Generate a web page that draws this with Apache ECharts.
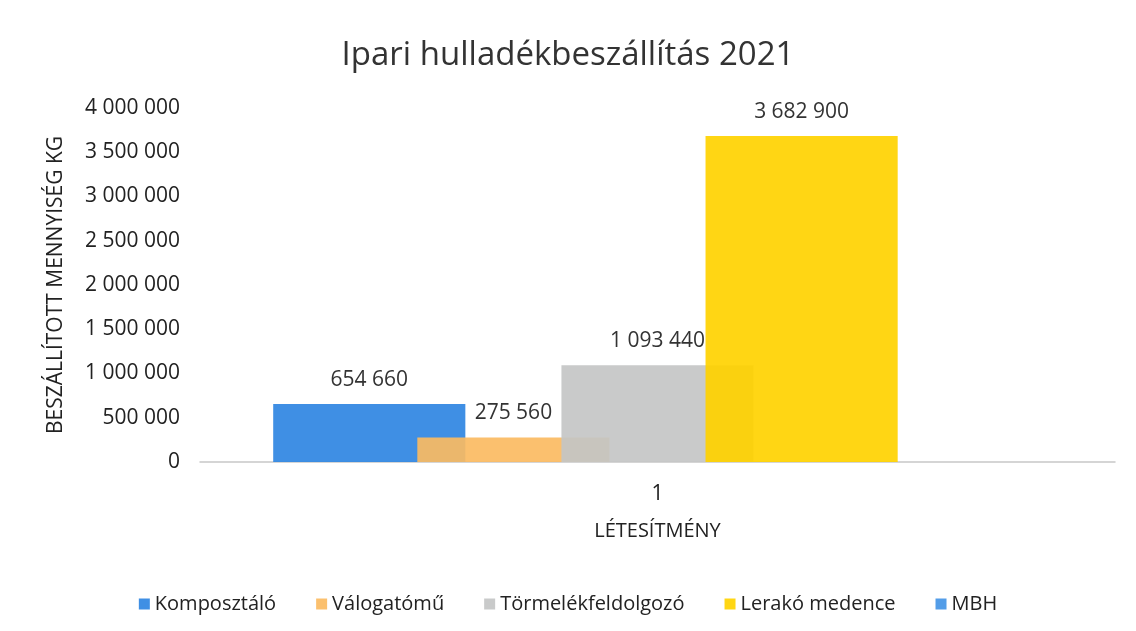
<!DOCTYPE html>
<html>
<head>
<meta charset="utf-8">
<script src="https://cdn.jsdelivr.net/npm/echarts@6/dist/echarts.min.js"></script>
<style>
  html, body { margin: 0; padding: 0; background: #fff; }
  #chart { width: 1136px; height: 631px; }
</style>
</head>
<body>
<div id="chart"></div>
<script>
const categories = ['1'];
const seriesNames = ['Komposztáló', 'Válogatómű', 'Törmelékfeldolgozó', 'Lerakó medence', 'MBH'];
const seriesValues = [
  [654660],
  [275560],
  [1093440],
  [3682900],
  ['-']
];
const colors = ['#2f86e2', '#fbbb62', '#c4c6c6', '#ffd200', '#4495e6'];

const fmt = v => String(Math.round(v)).replace(/\B(?=(\d{3})+(?!\d))/g, ' ');
const font = '"Open Sans", "Noto Sans", sans-serif';

let myChart = echarts.init(document.getElementById('chart'));

let series = seriesNames.map((name, i) => ({
  name: name,
  type: 'bar',
  data: seriesValues[i],
  barGap: '-25%',
  barCategoryGap: '16%',
  itemStyle: { color: colors[i], opacity: 0.92 },
  label: {
    show: true,
    position: 'top',
    distance: 14,
    color: '#222',
    fontSize: 21,
    fontFamily: font,
    formatter: p => fmt(p.value)
  }
}));

let option = {
  animation: false,
  title: {
    text: 'Ipari hulladékbeszállítás 2021',
    left: 'center',
    top: 34,
    textStyle: { fontFamily: font, fontSize: 33, fontWeight: 'normal', color: '#333' }
  },
  legend: {
    data: seriesNames,
    bottom: 12,
    left: 'center',
    icon: 'rect',
    itemWidth: 11,
    itemHeight: 11,
    itemGap: 40,
    textStyle: { fontFamily: font, fontSize: 20, color: '#222' }
  },
  grid: { left: 200, right: 21, top: 108, bottom: 169 },
  xAxis: {
    type: 'category',
    data: categories,
    name: 'LÉTESÍTMÉNY',
    nameLocation: 'middle',
    nameGap: 59,
    nameTextStyle: { fontFamily: font, fontSize: 20, color: '#222' },
    axisLine: { lineStyle: { color: '#c8c8c8', width: 1.5 } },
    axisTick: { show: false },
    axisLabel: { fontFamily: font, fontSize: 21, color: '#222', margin: 22 }
  },
  yAxis: {
    type: 'value',
    min: 0,
    max: 4000000,
    interval: 500000,
    name: 'BESZÁLLÍTOTT MENNYISÉG KG',
    nameLocation: 'middle',
    nameGap: 133,
    nameRotate: 90,
    nameTextStyle: { fontFamily: font, fontSize: 21, color: '#222' },
    axisLine: { show: false },
    axisTick: { show: false },
    splitLine: { show: false },
    axisLabel: { fontFamily: font, fontSize: 21, color: '#222', margin: 20, formatter: fmt }
  },
  series: series
};

option && myChart.setOption(option);
</script>
</body>
</html>
